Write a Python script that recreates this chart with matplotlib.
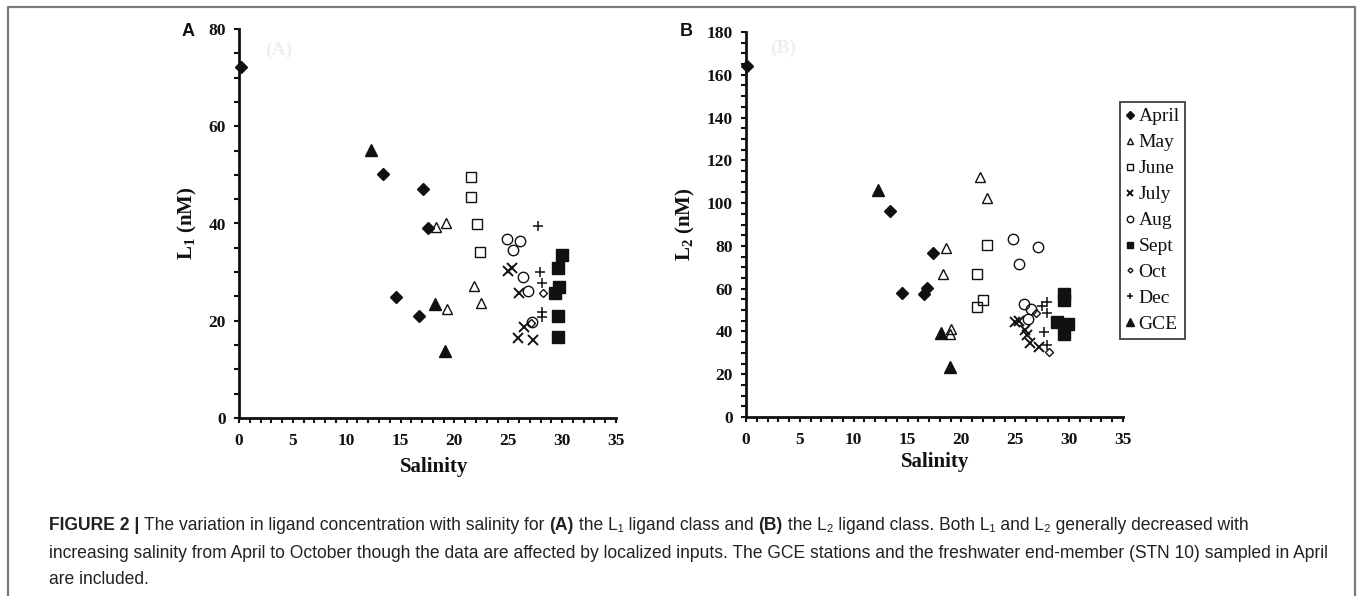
"""Ligand concentration (L1, L2) against salinity, two-panel scatter with caption."""
import matplotlib
matplotlib.use("Agg")
import matplotlib.pyplot as plt
from matplotlib.lines import Line2D
from matplotlib.ticker import MultipleLocator

# ---- data: (salinity, concentration) per sampling month ----
months = ["April", "May", "June", "July", "Aug", "Sept", "Oct", "Dec", "GCE"]

# panel A: L1 (nM)
april_sal_a = [0.15, 13.4, 17.1, 17.5, 14.6, 16.7]
april_l1 = [72.1, 50.1, 47.0, 39.1, 24.9, 21.0]
may_sal_a = [18.3, 19.2, 21.8, 22.5, 19.3]
may_l1 = [39.2, 40.0, 27.1, 23.7, 22.4]
june_sal_a = [21.5, 21.5, 22.1, 22.4]
june_l1 = [49.5, 45.5, 39.9, 34.1]
july_sal_a = [25.0, 25.3, 26.0, 26.5, 25.9, 27.3]
july_l1 = [30.2, 30.8, 25.8, 18.8, 16.4, 16.0]
aug_sal_a = [24.9, 26.1, 25.4, 26.4, 26.8, 27.2]
aug_l1 = [36.8, 36.3, 34.5, 29.1, 26.1, 19.8]
sept_sal_a = [30.0, 29.6, 29.7, 29.3, 29.6, 29.6]
sept_l1 = [33.5, 30.8, 26.9, 25.8, 21.0, 16.6]
oct_sal_a = [28.2, 27.1]
oct_l1 = [25.8, 19.5]
dec_sal_a = [27.8, 27.9, 28.1, 28.1, 28.1]
dec_l1 = [39.5, 30.1, 27.7, 21.9, 20.8]
gce_sal_a = [12.3, 18.2, 19.1]
gce_l1 = [55.1, 23.4, 13.8]

# panel B: L2 (nM)
april_sal_b = [0.1, 13.4, 17.4, 14.5, 16.5, 16.8]
april_l2 = [164.0, 96.4, 76.8, 57.8, 57.5, 60.5]
may_sal_b = [21.7, 22.4, 18.6, 18.3, 19.0, 18.9]
may_l2 = [112.4, 102.5, 78.9, 66.9, 41.1, 39.0]
june_sal_b = [22.4, 21.4, 22.0, 21.4]
june_l2 = [80.4, 66.7, 54.7, 51.6]
july_sal_b = [25.0, 25.3, 25.9, 26.1, 26.4, 27.2]
july_l2 = [44.3, 45.0, 40.7, 38.5, 34.4, 32.9]
aug_sal_b = [24.8, 27.1, 25.3, 25.8, 26.5, 26.2]
aug_l2 = [83.1, 79.6, 71.4, 52.7, 50.5, 45.7]
sept_sal_b = [29.5, 29.5, 28.85, 29.9, 29.5]
sept_l2 = [57.5, 54.5, 44.3, 43.5, 38.8]
oct_sal_b = [26.9, 28.1]
oct_l2 = [48.5, 30.2]
dec_sal_b = [27.5, 27.9, 27.9, 27.7, 27.9]
dec_l2 = [51.9, 53.9, 48.5, 39.9, 33.7]
gce_sal_b = [12.3, 18.1, 18.9]
gce_l2 = [106.1, 39.4, 23.5]

panel_a = [(april_sal_a, april_l1), (may_sal_a, may_l1), (june_sal_a, june_l1),
           (july_sal_a, july_l1), (aug_sal_a, aug_l1), (sept_sal_a, sept_l1),
           (oct_sal_a, oct_l1), (dec_sal_a, dec_l1), (gce_sal_a, gce_l1)]
panel_b = [(april_sal_b, april_l2), (may_sal_b, may_l2), (june_sal_b, june_l2),
           (july_sal_b, july_l2), (aug_sal_b, aug_l2), (sept_sal_b, sept_l2),
           (oct_sal_b, oct_l2), (dec_sal_b, dec_l2), (gce_sal_b, gce_l2)]

# marker style per month: (marker, size, filled, edge width)
styles = {
    "April": ("D", 6.0, True, 1.0),
    "May": ("^", 7.0, False, 1.0),
    "June": ("s", 7.0, False, 1.0),
    "July": ("x", 6.5, False, 1.4),
    "Aug": ("o", 7.5, False, 1.0),
    "Sept": ("s", 8.0, True, 1.0),
    "Oct": ("D", 4.0, False, 1.0),
    "Dec": ("+", 7.0, False, 1.1),
    "GCE": ("^", 8.5, True, 1.0),
}

SERIF = "Liberation Serif"
SANS = ["Liberation Sans", "DejaVu Sans"]
INK = "#111111"

plt.rcParams["mathtext.fontset"] = "custom"
plt.rcParams["mathtext.rm"] = "Liberation Serif:bold"
plt.rcParams["mathtext.it"] = "Liberation Serif:bold"
plt.rcParams["mathtext.bf"] = "Liberation Serif:bold"

W, H = 1358, 596
fig = plt.figure(figsize=(W / 100, H / 100), dpi=100)


def px_box(x0, y_top, x1, y_bot):
    return [x0 / W, 1 - y_bot / H, (x1 - x0) / W, (y_bot - y_top) / H]


ax_a = fig.add_axes(px_box(239, 29, 616, 418))
ax_b = fig.add_axes(px_box(746, 32, 1123, 417))


def draw_panel(ax, data, ymax, ylabel, ylab_x, xlab_pos):
    handles = []
    for name, (sal, val) in zip(months, data):
        m, ms, filled, mew = styles[name]
        h, = ax.plot(sal, val, linestyle="none", marker=m, ms=ms, mew=mew,
                     mec=INK, mfc=INK if filled else "none", color=INK,
                     clip_on=False, label=name)
        handles.append(h)
    ax.set_xlim(0, 35)
    ax.set_ylim(0, ymax)
    ax.xaxis.set_major_locator(MultipleLocator(5))
    ax.xaxis.set_minor_locator(MultipleLocator(1))
    ax.yaxis.set_major_locator(MultipleLocator(20))
    ax.yaxis.set_minor_locator(MultipleLocator(5))
    for s in ("top", "right"):
        ax.spines[s].set_visible(False)
    for s in ("left", "bottom"):
        ax.spines[s].set_linewidth(2.0)
        ax.spines[s].set_color(INK)
    ax.tick_params(which="both", direction="out", length=3.5, width=1.5, color=INK)
    ax.tick_params(axis="x", pad=7)
    ax.tick_params(axis="y", pad=6)
    for lab in ax.get_xticklabels() + ax.get_yticklabels():
        lab.set_fontfamily(SERIF)
        lab.set_fontweight("bold")
        lab.set_fontsize(12.5)
        lab.set_color(INK)
    ax.set_xlabel("Salinity", family=SERIF, weight="bold", fontsize=15, color=INK)
    ax.set_ylabel(ylabel, family=SERIF, weight="bold", fontsize=15, color=INK)
    ax.xaxis.set_label_coords(*xlab_pos)
    ax.yaxis.set_label_coords(ylab_x, 0.5)
    return handles


draw_panel(ax_a, panel_a, 80, "L$_1$ (nM)", -0.105, (0.517, -0.1))
handles = draw_panel(ax_b, panel_b, 180, "L$_2$ (nM)", -0.13, (0.501, -0.09))

leg = fig.legend(handles=handles, loc="upper left",
                 bbox_to_anchor=(1120 / W, 1 - 102 / H),
                 prop={"family": SERIF, "size": 14}, markerscale=0.62,
                 handlelength=0.45, handletextpad=0.2, labelspacing=0.43,
                 borderpad=0.3, borderaxespad=0, fancybox=False, frameon=True)
leg.get_frame().set_edgecolor(INK)
leg.get_frame().set_linewidth(1.3)
for t in leg.get_texts():
    t.set_color(INK)

# panel letters and the faint ghost labels of the original scan
fig.text(182 / W, 1 - 32 / H, "A", family=SANS, weight="bold", fontsize=13,
         va="center", ha="left", color="#111111")
fig.text(680 / W, 1 - 32 / H, "B", family=SANS, weight="bold", fontsize=13,
         va="center", ha="left", color="#111111")
fig.text(265 / W, 1 - 50 / H, "(A)", family=SERIF, weight="bold", fontsize=14,
         va="center", ha="left", color="#eeeeee")
fig.text(770 / W, 1 - 48 / H, "(B)", family=SERIF, weight="bold", fontsize=14,
         va="center", ha="left", color="#eeeeee")

# outer frame (open at the bottom, as in the source)
fig.add_artist(Line2D([7.5 / W, 7.5 / W, 1354.5 / W, 1354.5 / W],
                      [-0.05, 1 - 6.5 / H, 1 - 6.5 / H, -0.05],
                      transform=fig.transFigure, color="#7a7a7a", lw=1.6))

# caption, mixed bold/regular runs laid out one after another
cap1 = [("FIGURE 2 | ", True),
        ("The variation in ligand concentration with salinity for ", False),
        ("(A)", True), (" the L\u2081 ligand class and ", False), ("(B)", True),
        (" the L\u2082 ligand class. Both L\u2081 and L\u2082 generally decreased with", False)]
cap2 = [("increasing salinity from April to October though the data are affected by "
         "localized inputs. The GCE stations and the freshwater end-member (STN 10) "
         "sampled in April", False)]
cap3 = [("are included.", False)]

r = fig.canvas.get_renderer()
probe = fig.text(0, 0, cap2[0][0], fontsize=10, family=SANS)
cap_fs = 10 * 1290 / probe.get_window_extent(r).width
probe.remove()


def caption_line(y_px, parts):
    x = 49 / W
    for s, bold in parts:
        t = fig.text(x, 1 - y_px / H, s, family=SANS, fontsize=cap_fs,
                     weight="bold" if bold else "normal", color="#222222",
                     va="center", ha="left")
        x += t.get_window_extent(r).width / W


caption_line(526, cap1)
caption_line(553, cap2)
caption_line(579, cap3)

fig.savefig("out.png", dpi=100)
